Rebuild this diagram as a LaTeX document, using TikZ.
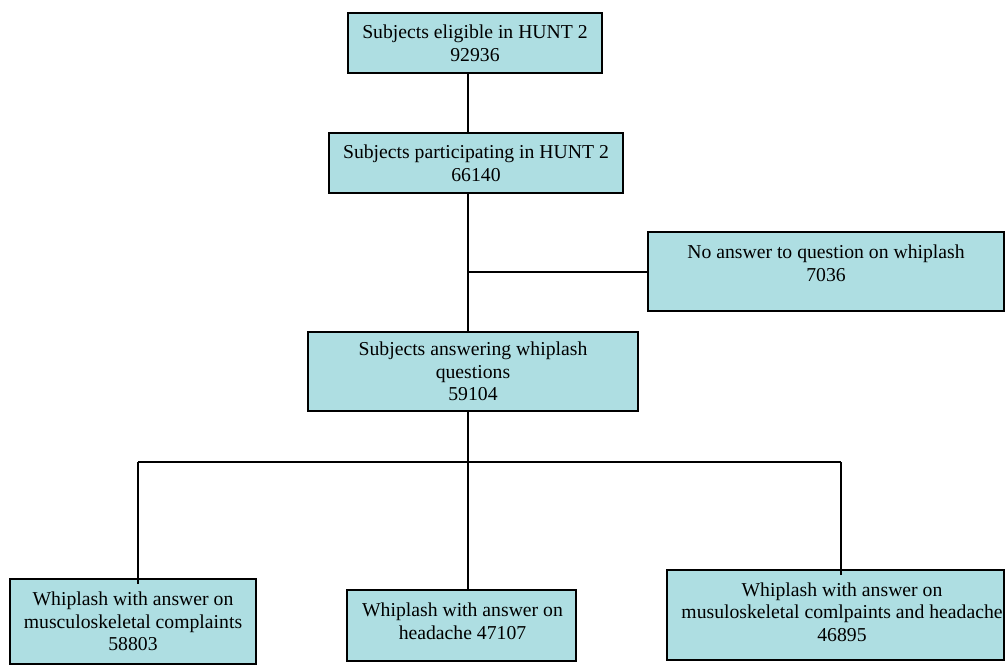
\documentclass[tikz,border=0pt]{standalone}
\usepackage{fontspec}
\setmainfont{Liberation Serif}
\definecolor{boxfill}{RGB}{174,222,226}
\tikzset{
  box/.style={draw=black, fill=boxfill, line width=1.3pt, inner sep=0pt, align=center,
    font=\fontsize{19.7}{22.7}\selectfont},
  txt/.style={inner sep=0pt, align=center, font=\fontsize{19.7}{22.7}\selectfont},
  conn/.style={draw=black, line width=1.2pt}
}
\begin{document}
\begin{tikzpicture}[x=1pt,y=-1pt]
\useasboundingbox (0,0) rectangle (1005,666);
\node[box, minimum width=254pt, minimum height=60pt] (b1) at (475,43) {Subjects eligible in HUNT 2\\92936};
\node[box, minimum width=294pt, minimum height=60pt] (b2) at (476,163) {Subjects participating in HUNT 2\\66140};
\node[box, minimum width=356pt, minimum height=79pt] (no) at (826,271.5) {};
\node[txt] (not) at (826,263) {No answer to question on whiplash\\7036};
\node[box, minimum width=330pt, minimum height=79pt] (b3) at (473,371.5) {Subjects answering whiplash\\questions\\59104};
\node[box, minimum width=246pt, minimum height=85pt] (b4) at (133,621.5) {Whiplash with answer on\\musculoskeletal complaints\\58803};
\node[box, minimum width=229pt, minimum height=71pt] (b5) at (461.5,625.5) {};
\node[txt] (b5t) at (462.5,621) {Whiplash with answer on\\headache 47107};
\node[box, minimum width=337pt, minimum height=90pt] (b6) at (835.5,615) {};
\node[txt] (b6t) at (842,612) {Whiplash with answer on\\musuloskeletal comlpaints and headache\\46895};
\coordinate (sx) at (468,0);
\coordinate (br) at (468,272);
\coordinate (hy) at (0,462);
\coordinate (hl) at (138,462);
\coordinate (hm) at (468,462);
\coordinate (hr) at (841,462);
\draw[conn] (b1.south -| sx) -- (b2.north -| sx);
\draw[conn] (b2.south -| sx) -- (b3.north -| sx);
\draw[conn] (br) -- (no.west |- br);
\draw[conn] (b3.south -| sx) -- (hm);
\draw[conn] (hl) -- (hr);
\draw[conn] (hl) -- ([yshift=-6pt]b4.north -| hl);
\draw[conn] (hm) -- (b5.north -| hm);
\draw[conn] (hr) -- ([yshift=-6pt]b6.north -| hr);
\end{tikzpicture}
\end{document}
